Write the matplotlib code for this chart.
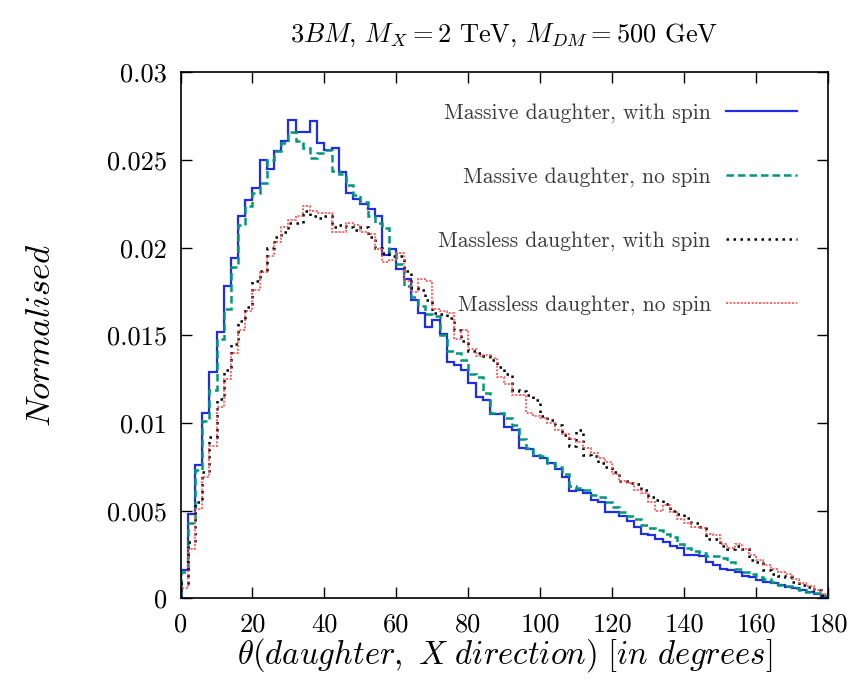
import numpy as np
import matplotlib
matplotlib.use("Agg")
import matplotlib.pyplot as plt
from matplotlib.ticker import FormatStrFormatter

plt.rcParams['font.family'] = 'serif'
plt.rcParams['font.serif'] = ['cmr10', 'DejaVu Serif']
plt.rcParams['mathtext.fontset'] = 'cm'
plt.rcParams['axes.unicode_minus'] = False

# 2-degree bins from 0 to 180
bin_edges = np.arange(0, 182, 2)

massive_spin = [
    0.0016, 0.0048, 0.0076, 0.0106, 0.0129, 0.0152, 0.0178, 0.0194, 0.0218, 0.0227,
    0.0234, 0.0250, 0.0245, 0.0255, 0.0261, 0.0273, 0.0266, 0.0266, 0.0272, 0.0260,
    0.0256, 0.0257, 0.0243, 0.0231, 0.0228, 0.0225, 0.0222, 0.0218, 0.0196, 0.0199,
    0.0188, 0.0182, 0.0170, 0.0163, 0.0155, 0.0159, 0.0151, 0.0135, 0.0133, 0.0130,
    0.0123, 0.0115, 0.0113, 0.0105, 0.0105, 0.0098, 0.0096, 0.0086, 0.0085, 0.0081,
    0.0080, 0.0077, 0.0074, 0.0069, 0.0061, 0.0062, 0.0060, 0.0056, 0.0055, 0.0049,
    0.0049, 0.0047, 0.0044, 0.0041, 0.0037, 0.0036, 0.0034, 0.0032, 0.0030, 0.0029,
    0.0025, 0.0025, 0.0024, 0.0021, 0.0019, 0.0017, 0.0016, 0.0015, 0.0013, 0.0012,
    0.00105, 0.00095, 0.00086, 0.00076, 0.00067, 0.00058, 0.00048, 0.00038, 0.00025, 0.00014,
]

massive_nospin = [
    0.0015, 0.0043, 0.0073, 0.0101, 0.0119, 0.0148, 0.0165, 0.0189, 0.0213, 0.0224,
    0.0231, 0.0237, 0.0250, 0.0255, 0.0260, 0.0266, 0.0261, 0.0257, 0.0251, 0.0254,
    0.0256, 0.0244, 0.0242, 0.0236, 0.0230, 0.0226, 0.0218, 0.0214, 0.0211, 0.0197,
    0.0191, 0.0178, 0.0172, 0.0167, 0.0162, 0.0161, 0.0150, 0.0141, 0.0140, 0.0136,
    0.0128, 0.0126, 0.0117, 0.0106, 0.0106, 0.0103, 0.0099, 0.0091, 0.0086, 0.0082,
    0.0081, 0.0077, 0.0075, 0.0071, 0.0064, 0.0063, 0.0062, 0.0059, 0.0058, 0.0055,
    0.0052, 0.0049, 0.0047, 0.0045, 0.0042, 0.0040, 0.0039, 0.0037, 0.0035, 0.0031,
    0.0029, 0.0027, 0.0026, 0.0024, 0.0024, 0.0023, 0.0021, 0.0017, 0.0015, 0.0014,
    0.0012, 0.0011, 0.00095, 0.00078, 0.0007, 0.00058, 0.00048, 0.00038, 0.0003, 0.00015,
]

massless_spin = [
    0.0009, 0.0032, 0.0055, 0.0072, 0.0092, 0.0114, 0.0130, 0.0145, 0.0158, 0.0166,
    0.0181, 0.0187, 0.0200, 0.0206, 0.0209, 0.0214, 0.0214, 0.0221, 0.0218, 0.0217,
    0.0218, 0.0212, 0.0213, 0.0212, 0.0210, 0.0212, 0.0206, 0.0200, 0.0197, 0.0195,
    0.0195, 0.0187, 0.0177, 0.0176, 0.0170, 0.0163, 0.0162, 0.0160, 0.0153, 0.0147,
    0.0141, 0.0140, 0.0138, 0.0136, 0.0132, 0.0128, 0.0119, 0.0118, 0.0116, 0.0113,
    0.0104, 0.0102, 0.0099, 0.0093, 0.0087, 0.0096, 0.0082, 0.0081, 0.0077, 0.0075,
    0.0072, 0.0067, 0.0066, 0.0065, 0.0062, 0.0058, 0.0056, 0.0054, 0.0050, 0.0048,
    0.0046, 0.0043, 0.0041, 0.0034, 0.0034, 0.0030, 0.0028, 0.0030, 0.0028, 0.0022,
    0.0021, 0.0016, 0.0014, 0.0013, 0.0012, 0.00095, 0.00076, 0.00067, 0.00048, 0.0002,
]

massless_nospin = [
    0.0006, 0.0028, 0.0051, 0.0069, 0.0087, 0.0109, 0.0125, 0.0140, 0.0153, 0.0164,
    0.0176, 0.0186, 0.0195, 0.0203, 0.0212, 0.0216, 0.0218, 0.0224, 0.0221, 0.0220,
    0.0220, 0.0209, 0.0209, 0.0214, 0.0213, 0.0209, 0.0208, 0.0199, 0.0192, 0.0193,
    0.0197, 0.0181, 0.0175, 0.0182, 0.0181, 0.0165, 0.0164, 0.0163, 0.0148, 0.0153,
    0.0142, 0.0138, 0.0139, 0.0137, 0.0126, 0.0122, 0.0116, 0.0116, 0.0106, 0.0104,
    0.0103, 0.0100, 0.0096, 0.0094, 0.0091, 0.0089, 0.0086, 0.0083, 0.0080, 0.0078,
    0.0071, 0.0067, 0.0066, 0.0062, 0.0060, 0.0055, 0.0050, 0.0053, 0.0049, 0.0045,
    0.0043, 0.0041, 0.0040, 0.0037, 0.0036, 0.0031, 0.0029, 0.0031, 0.0028, 0.0025,
    0.0022, 0.0019, 0.0017, 0.0015, 0.0014, 0.0011, 0.0009, 0.0007, 0.0005, 0.00025,
]

labels = ['Massive daughter, with spin', 'Massive daughter, no spin',
          'Massless daughter, with spin', 'Massless daughter, no spin']

fig = plt.figure(figsize=(8.68, 6.98), dpi=100)
ax = fig.add_axes([0.208, 0.1427, 0.746, 0.7536])

ax.stairs(massive_spin, bin_edges, color='#1f2ee6', lw=1.6, label=labels[0])
ax.stairs(massive_nospin, bin_edges, color='#00977a', lw=1.8,
          linestyle=(0, (3.0, 1.6)), label=labels[1])
ax.stairs(massless_spin, bin_edges, color='black', lw=1.8,
          linestyle=(0, (1.0, 1.8)), label=labels[2])
ax.stairs(massless_nospin, bin_edges, color='#ff4a4a', lw=1.2,
          linestyle=(0, (1.2, 1.0)), label=labels[3])

ax.set_xlim(0, 180)
ax.set_ylim(0, 0.03)
ax.set_xticks(np.arange(0, 181, 20))
ax.set_yticks(np.arange(0, 0.0301, 0.005))
ax.yaxis.set_major_formatter(FormatStrFormatter('%g'))
ax.tick_params(direction='in', top=True, right=True, length=8, width=1,
               labelsize=19)
ax.tick_params(axis='x', pad=10)
ax.tick_params(axis='y', pad=10)
for sp in ax.spines.values():
    sp.set_linewidth(1.2)

ax.set_title(r'$3BM$, $M_X = 2$ TeV, $M_{DM} = 500$ GeV', fontsize=19, pad=22)
ax.set_xlabel(r'$\theta(daughter,\ X\ direction)\ [in\ degrees]$', fontsize=23.5, labelpad=0)
ax.set_ylabel(r'$Normalised$', fontsize=25, labelpad=36)

leg = ax.legend(loc='upper right', bbox_to_anchor=(797 / 868, 1 - 103 / 698),
                bbox_transform=fig.transFigure, frameon=False, markerfirst=False,
                fontsize=15.5, handlelength=3.3, handletextpad=0.7,
                labelspacing=2.05, borderpad=0, borderaxespad=0)
for t in leg.get_texts():
    t.set_color('#3a3a3a')

fig.savefig('out.png', dpi=100)
